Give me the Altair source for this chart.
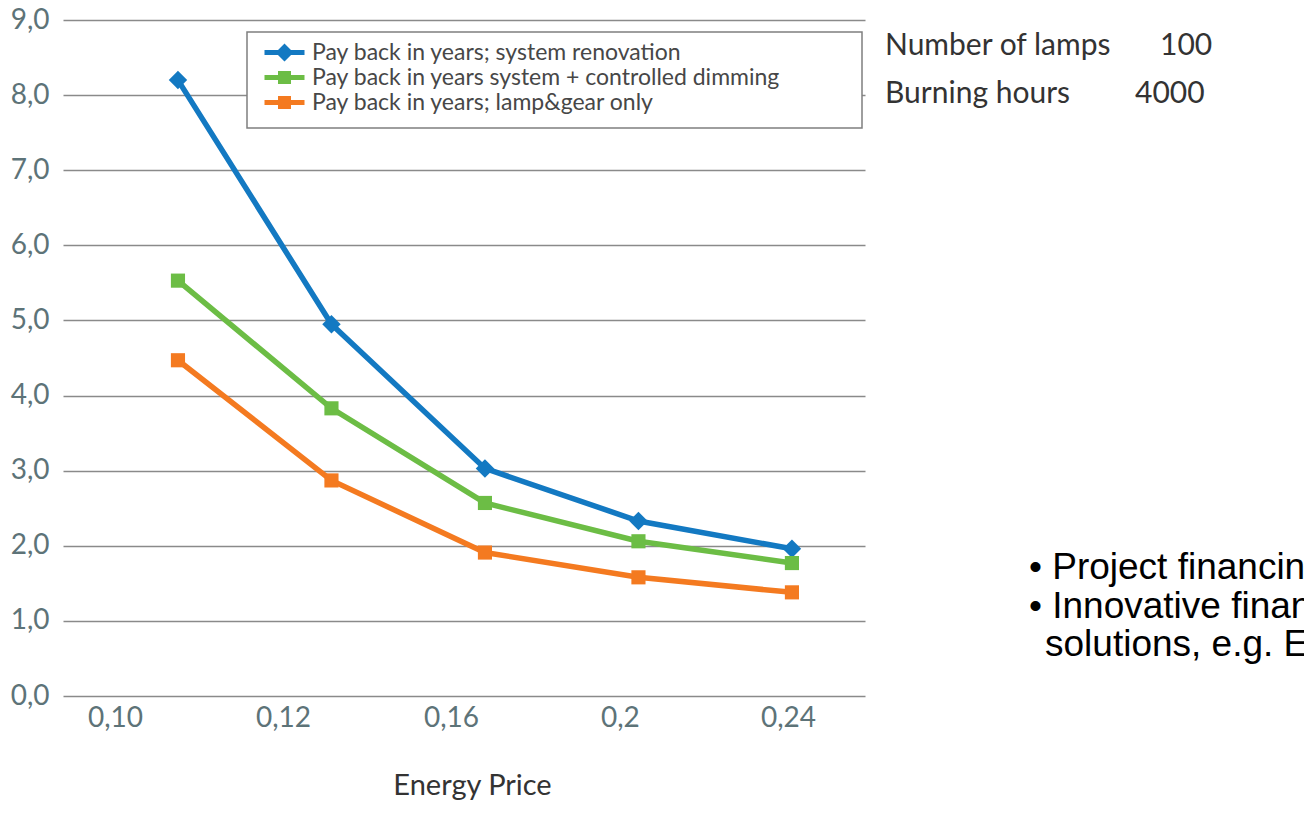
import altair as alt
import pandas as pd

# Energy price categories (evenly spaced along the axis)
prices = ["0,10", "0,12", "0,16", "0,2", "0,24"]

series = [
    "Pay back in years; system renovation",
    "Pay back in years system + controlled dimming",
    "Pay back in years; lamp&gear only",
]
renovation = [8.20, 4.95, 3.03, 2.33, 1.96]
dimming = [5.53, 3.83, 2.57, 2.06, 1.77]
lamp_gear = [4.47, 2.87, 1.91, 1.58, 1.38]
colors = ["#1379c2", "#6cbd45", "#f47a20"]

rows = []
for name, vals in zip(series, [renovation, dimming, lamp_gear]):
    for step, (price, v) in enumerate(zip(prices, vals)):
        rows.append({"step": step, "price": price, "series": name, "value": v})
df = pd.DataFrame(rows)

# axis geometry
W, H = 802, 676
x_domain = [-0.749, 4.476]
label_steps = [-0.41, 0.684, 1.779, 2.879, 3.974]
cuts = [(a + b) / 2 for a, b in zip(label_steps[:-1], label_steps[1:])]
label_expr = "".join(f"datum.value < {c:.3f} ? '{p}' : " for c, p in zip(cuts, prices)) + f"'{prices[-1]}'"

FONT = "Lato"
tick_color = "#5d7378"

x_enc = alt.X(
    "step:Q",
    scale=alt.Scale(domain=x_domain, nice=False, zero=False),
    axis=alt.Axis(
        values=label_steps, labelExpr=label_expr, grid=False, domain=False, ticks=False,
        labelPadding=8, labelFont=FONT, labelFontSize=28, labelColor=tick_color,
        title="Energy Price", titleFont=FONT, titleFontSize=29, titleFontWeight="normal",
        titleColor="#333333", titleX=409, titleY=89, titleAlign="center", titleBaseline="middle",
        labelFlush=False, labelOverlap=False,
    ),
)
y_enc = alt.Y(
    "value:Q",
    scale=alt.Scale(domain=[0, 9], nice=False),
    axis=alt.Axis(
        values=list(range(10)), labelExpr="replace(format(datum.value, '.1f'), '.', ',')",
        grid=True, gridColor="#8a8a8a", gridWidth=1.6, domain=False, ticks=False,
        labelPadding=14, labelFont=FONT, labelFontSize=28, labelColor=tick_color, title=None,
    ),
)
color_scale = alt.Scale(domain=series, range=colors)

# legend symbols: a line stroke with its marker
line_diamond = "M-4,-0.5H4V0.5H-4Z M0,-1.8L1.8,0L0,1.8L-1.8,0Z"
line_square = "M-4,-0.5H4V0.5H-4Z M-1.3,-1.3H1.3V1.3H-1.3Z"
legend = alt.Legend(
    title=None, orient="none", legendX=196, legendY=21, padding=0,
    labelFont=FONT, labelFontSize=23, labelColor="#474747", labelLimit=700,
    symbolSize=100, symbolOffset=14, labelOffset=16, rowPadding=1,
    symbolStrokeWidth=0,
)
color_enc = alt.Color("series:N", scale=color_scale)

base = alt.Chart(df)

# frame drawn behind the legend entries
frame = alt.Chart(pd.DataFrame({"k": [0]})).mark_rect(
    fill="white", stroke="#7f7f7f", strokeWidth=1.5
).encode(x=alt.value(184), x2=alt.value(799), y=alt.value(12), y2=alt.value(108))

lines = base.mark_line(strokeWidth=5.5).encode(
    x=x_enc, y=y_enc, color=color_enc, detail="series:N",
)
diamonds = base.transform_filter(alt.datum.series == series[0]).mark_point(
    shape="diamond", filled=True, size=340, opacity=1
).encode(x=x_enc, y=y_enc, color=color_enc)
squares = base.transform_filter(alt.datum.series != series[0]).mark_square(
    size=200, opacity=1
).encode(x=x_enc, y=y_enc, color=color_enc)

# points kept off the canvas; this layer only carries the legend
legend_layer = base.mark_point(filled=True, opacity=1).encode(
    x=alt.value(-2000), y=alt.value(-2000),
    color=alt.Color("series:N", scale=color_scale, legend=legend),
    shape=alt.Shape("series:N", scale=alt.Scale(domain=series, range=[line_diamond, line_square, line_square]), legend=legend),
)

def note(text, x, y, size, font, color, align="left"):
    return alt.Chart(pd.DataFrame({"t": [text]})).mark_text(
        font=font, fontSize=size, color=color, align=align, baseline="middle"
    ).encode(text="t:N", x=alt.value(x), y=alt.value(y))

notes = [
    note("Number of lamps", 822, 26, 30, FONT, "#333333"),
    note("100", 1097, 26, 30, FONT, "#333333"),
    note("Burning hours", 822, 74, 30, FONT, "#333333"),
    note("4000", 1072, 74, 30, FONT, "#333333"),
    note("\u2022 Project financing", 966, 548, 37, "Liberation Sans", "#000000"),
    note("\u2022 Innovative financing", 966, 587, 37, "Liberation Sans", "#000000"),
    note("solutions, e.g. ESCO", 982, 625, 37, "Liberation Sans", "#000000"),
]

chart = alt.layer(lines, diamonds, squares, frame, legend_layer, *notes).properties(
    width=W, height=H,
    autosize=alt.AutoSizeParams(type="none"),
    padding={"left": 63, "top": 20, "right": 439, "bottom": 139},
    background="white",
).configure_view(stroke=None)

chart.save("out.html", embed_options={"renderer": "svg", "actions": False})
